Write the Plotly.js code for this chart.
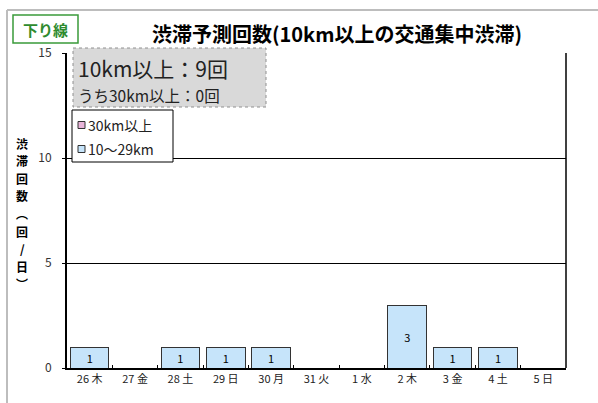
<!DOCTYPE html>
<html>
<head>
<meta charset="utf-8">
<script src="https://cdn.plot.ly/plotly-3.0.1.min.js"></script>
<style>html,body{margin:0;padding:0;background:#fff;}#chart{width:598px;height:403px;}</style>
</head>
<body>
<div id="chart"></div>
<script>
const categories = ["26 木","27 金","28 土","29 日","30 月","31 火","1 水","2 木","3 金","4 土","5 日"];
const values10to29 = [1,0,1,1,1,0,0,3,1,1,0];
const values30plus = [0,0,0,0,0,0,0,0,0,0,0];
const seriesNames = ["10〜29km","30km以上"];
const seriesColors = ["#c6e4fa","#e8b4d8"];
const titleText = "渋滞予測回数(10km以上の交通集中渋滞)";
const directionLabel = "下り線";
const summaryLine1 = "10km以上：9回";
const summaryLine2 = "うち30km以上：0回";
const yTitleChars = ["渋","滞","回","数","︵","回","/","日","︶"];
const yTicks = [0,5,10,15];

const W=598,H=403, L=67,R=566,T=53,B=368;
const px = x => (x-L)/(R-L);
const py = y => (B-y)/(B-T);
const FONT = '"Noto Sans CJK JP", "Noto Sans", sans-serif';

const traces = [
  {type:'bar', name:seriesNames[0], x:categories, y:values10to29,
   marker:{color:seriesColors[0], line:{color:'#333', width:1}},
   text:values10to29.map(v=>v>0?String(v):''), textposition:'inside', insidetextanchor:'middle',
   textangle:0, constraintext:'none',
   textfont:{family:FONT,size:11,color:'#000'}, hoverinfo:'none'},
  {type:'bar', name:seriesNames[1], x:categories, y:values30plus,
   marker:{color:seriesColors[1], line:{color:'#333', width:1}}, hoverinfo:'none'}
];

const shapes = [
  {type:'line', xref:'paper', yref:'paper', x0:px(7), x1:px(7), y0:py(10), y1:py(410), line:{color:'#bdbdbd', width:2}},
  {type:'line', xref:'paper', yref:'paper', x0:px(7), x1:px(605), y0:py(10), y1:py(10), line:{color:'#bdbdbd', width:2}},
  {type:'line', xref:'paper', yref:'paper', x0:1, x1:1, y0:0, y1:1, line:{color:'#000', width:1.5}},
  {type:'rect', xref:'paper', yref:'paper', x0:px(13), x1:px(78), y0:py(15), y1:py(43), line:{color:'#3a9a3a', width:1.5}, fillcolor:'#fff'},
  {type:'rect', xref:'paper', yref:'paper', x0:px(73), x1:px(266), y0:py(48), y1:py(107), line:{color:'#909090', width:1, dash:'dot'}, fillcolor:'#d9d9d9', layer:'above'},
  // legend box
  {type:'rect', xref:'paper', yref:'paper', x0:px(72), x1:px(173), y0:py(110), y1:py(162), line:{color:'#000', width:1}, fillcolor:'#fff', layer:'above'}
];

const annotations = [
  {xref:'paper', yref:'paper', x:px(45.5), y:py(29), xanchor:'center', yanchor:'middle', showarrow:false,
   text:'<b>'+directionLabel+'</b>', font:{family:FONT,size:15,color:'#2e8b2e'}},
  {xref:'paper', yref:'paper', x:px(76), y:py(68), xanchor:'left', yanchor:'middle', showarrow:false,
   text:summaryLine1, font:{family:FONT,size:21,color:'#222'}},
  {xref:'paper', yref:'paper', x:px(76), y:py(95), xanchor:'left', yanchor:'middle', showarrow:false,
   text:summaryLine2, font:{family:FONT,size:15.5,color:'#222'}}
];

// legend (top item = 30km以上, bottom = 10〜29km)
const legendOrder = [1,0];
legendOrder.forEach((si,i)=>{
  const cy = 125 + i*24;
  shapes.push({type:'rect', xref:'paper', yref:'paper', x0:px(78), x1:px(85), y0:py(cy-3.5), y1:py(cy+3.5),
               line:{color:'#333', width:1}, fillcolor:seriesColors[si], layer:'above'});
  annotations.push({xref:'paper', yref:'paper', x:px(86), y:py(cy), xanchor:'left', yanchor:'middle', showarrow:false,
               text:seriesNames[si], font:{family:FONT,size:14,color:'#222'}});
});

// vertical y-axis title
yTitleChars.forEach((c,i)=>{
  annotations.push({xref:'paper', yref:'paper', x:px(22), y:py(143 + i*17.6), xanchor:'center', yanchor:'middle', showarrow:false,
    text:'<b>'+c+'</b>', font:{family:FONT,size:12,color:'#000'}});
});

const layout = {
  width:W, height:H,
  margin:{l:L, r:W-R, t:T, b:H-B, pad:0},
  paper_bgcolor:'#fff', plot_bgcolor:'#fff',
  barmode:'stack', bargap:0.15,
  font:{family:FONT, color:'#000'},
  title:{text:'<b>'+titleText+'</b>', x:337/W, xanchor:'center', y:1-35/H, yanchor:'middle',
         font:{family:FONT,size:20,color:'#000'}},
  xaxis:{type:'category', showline:true, linecolor:'#000', linewidth:2,
         ticks:'inside', ticklen:3, tickcolor:'#000', tickson:'boundaries',
         tickfont:{family:FONT,size:11,color:'#222'}, showgrid:false, fixedrange:true},
  yaxis:{range:[0,15], tickvals:yTicks, showline:true, linecolor:'#000', linewidth:2,
         ticks:'outside', ticklen:3, tickcolor:'#000', ticklabelstandoff:8,
         showgrid:true, gridcolor:'#000', gridwidth:1, zeroline:false,
         tickfont:{family:FONT,size:12,color:'#333'}, fixedrange:true},
  showlegend:false,
  shapes:shapes,
  annotations:annotations
};

Plotly.newPlot('chart', traces, layout, {displayModeBar:false, staticPlot:true});
</script>
</body>
</html>
